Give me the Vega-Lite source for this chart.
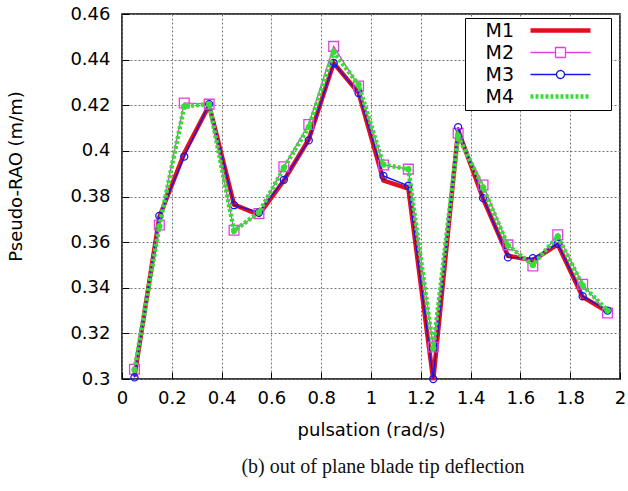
{
  "$schema": "https://vega.github.io/schema/vega-lite/v6.json",
  "width": 498,
  "height": 365,
  "autosize": {"type": "none"},
  "padding": {"left": 122, "top": 14, "right": 8, "bottom": 112},
  "background": "white",
  "title": {"text": "(b) out of plane blade tip deflection", "orient": "bottom", "font": "Liberation Serif", "fontSize": 20, "fontWeight": "normal", "color": "#111111", "dx": 12, "offset": 18},
  "config": {
    "view": {"stroke": "black", "strokeWidth": 1.5},
    "axis": {"labelFont": "DejaVu Sans", "titleFont": "DejaVu Sans", "labelColor": "black", "titleColor": "black", "titleFontWeight": "normal", "grid": true, "gridColor": "#777777", "gridDash": [2, 2], "gridWidth": 1, "gridOpacity": 1, "domain": false, "ticks": true, "tickSize": -7, "tickColor": "black", "tickWidth": 1}
  },
  "data": {"values": [
    {"series": "M1", "x": 0.05, "y": 0.301}, {"series": "M1", "x": 0.15, "y": 0.371}, {"series": "M1", "x": 0.25, "y": 0.399}, {"series": "M1", "x": 0.35, "y": 0.42}, {"series": "M1", "x": 0.45, "y": 0.3765}, {"series": "M1", "x": 0.55, "y": 0.372}, {"series": "M1", "x": 0.65, "y": 0.387}, {"series": "M1", "x": 0.75, "y": 0.405}, {"series": "M1", "x": 0.85, "y": 0.4385}, {"series": "M1", "x": 0.95, "y": 0.4255},
    {"series": "M1", "x": 1.05, "y": 0.387}, {"series": "M1", "x": 1.15, "y": 0.3835}, {"series": "M1", "x": 1.25, "y": 0.2995}, {"series": "M1", "x": 1.35, "y": 0.409}, {"series": "M1", "x": 1.45, "y": 0.379}, {"series": "M1", "x": 1.55, "y": 0.354}, {"series": "M1", "x": 1.65, "y": 0.352}, {"series": "M1", "x": 1.75, "y": 0.359}, {"series": "M1", "x": 1.85, "y": 0.336}, {"series": "M1", "x": 1.95, "y": 0.3295},
    {"series": "M2", "x": 0.05, "y": 0.3043}, {"series": "M2", "x": 0.15, "y": 0.3675}, {"series": "M2", "x": 0.25, "y": 0.421}, {"series": "M2", "x": 0.35, "y": 0.4205}, {"series": "M2", "x": 0.45, "y": 0.3652}, {"series": "M2", "x": 0.55, "y": 0.3725}, {"series": "M2", "x": 0.65, "y": 0.393}, {"series": "M2", "x": 0.75, "y": 0.4116}, {"series": "M2", "x": 0.85, "y": 0.4458}, {"series": "M2", "x": 0.95, "y": 0.4284},
    {"series": "M2", "x": 1.05, "y": 0.3938}, {"series": "M2", "x": 1.15, "y": 0.392}, {"series": "M2", "x": 1.25, "y": 0.314}, {"series": "M2", "x": 1.35, "y": 0.4077}, {"series": "M2", "x": 1.45, "y": 0.385}, {"series": "M2", "x": 1.55, "y": 0.3588}, {"series": "M2", "x": 1.65, "y": 0.3495}, {"series": "M2", "x": 1.75, "y": 0.3632}, {"series": "M2", "x": 1.85, "y": 0.3415}, {"series": "M2", "x": 1.95, "y": 0.3289},
    {"series": "M3", "x": 0.05, "y": 0.3007}, {"series": "M3", "x": 0.15, "y": 0.3715}, {"series": "M3", "x": 0.25, "y": 0.3975}, {"series": "M3", "x": 0.35, "y": 0.4205}, {"series": "M3", "x": 0.45, "y": 0.3762}, {"series": "M3", "x": 0.55, "y": 0.373}, {"series": "M3", "x": 0.65, "y": 0.3873}, {"series": "M3", "x": 0.75, "y": 0.4046}, {"series": "M3", "x": 0.85, "y": 0.4385}, {"series": "M3", "x": 0.95, "y": 0.4254},
    {"series": "M3", "x": 1.05, "y": 0.389}, {"series": "M3", "x": 1.15, "y": 0.3847}, {"series": "M3", "x": 1.25, "y": 0.3}, {"series": "M3", "x": 1.35, "y": 0.4104}, {"series": "M3", "x": 1.45, "y": 0.3793}, {"series": "M3", "x": 1.55, "y": 0.3533}, {"series": "M3", "x": 1.65, "y": 0.353}, {"series": "M3", "x": 1.75, "y": 0.3593}, {"series": "M3", "x": 1.85, "y": 0.3363}, {"series": "M3", "x": 1.95, "y": 0.33},
    {"series": "M4", "x": 0.05, "y": 0.304}, {"series": "M4", "x": 0.15, "y": 0.367}, {"series": "M4", "x": 0.25, "y": 0.4195}, {"series": "M4", "x": 0.35, "y": 0.4205}, {"series": "M4", "x": 0.45, "y": 0.365}, {"series": "M4", "x": 0.55, "y": 0.373}, {"series": "M4", "x": 0.65, "y": 0.3925}, {"series": "M4", "x": 0.75, "y": 0.4104}, {"series": "M4", "x": 0.85, "y": 0.4433}, {"series": "M4", "x": 0.95, "y": 0.429},
    {"series": "M4", "x": 1.05, "y": 0.394}, {"series": "M4", "x": 1.15, "y": 0.392}, {"series": "M4", "x": 1.25, "y": 0.3135}, {"series": "M4", "x": 1.35, "y": 0.4065}, {"series": "M4", "x": 1.45, "y": 0.384}, {"series": "M4", "x": 1.55, "y": 0.3585}, {"series": "M4", "x": 1.65, "y": 0.35}, {"series": "M4", "x": 1.75, "y": 0.3625}, {"series": "M4", "x": 1.85, "y": 0.341}, {"series": "M4", "x": 1.95, "y": 0.33}
  ]},
  "encoding": {
    "x": {"field": "x", "type": "quantitative", "title": "pulsation (rad/s)",
      "scale": {"domain": [0, 2], "nice": false, "zero": false},
      "axis": {"values": [0, 0.2, 0.4, 0.6, 0.8, 1, 1.2, 1.4, 1.6, 1.8, 2], "format": "~g", "labelFontSize": 18, "titleFontSize": 18, "labelPadding": 17, "titlePadding": 14, "labelFlush": false}},
    "y": {"field": "y", "type": "quantitative", "title": "Pseudo-RAO (m/m)",
      "scale": {"domain": [0.3, 0.46], "nice": false, "zero": false},
      "axis": {"values": [0.3, 0.32, 0.34, 0.36, 0.38, 0.4, 0.42, 0.44, 0.46], "format": "~g", "labelFontSize": 18, "titleFontSize": 18, "labelPadding": 19, "titleX": -97, "titleY": 162, "labelFlush": false}}
  },
  "layer": [
    {
      "transform": [{"filter": "datum.series === 'M1'"}],
      "mark": {"type": "line", "strokeWidth": 4.5, "strokeJoin": "miter"},
      "encoding": {"color": {"field": "series", "type": "nominal",
        "scale": {"domain": ["M1", "M2", "M3", "M4"], "range": ["#e0101c", "#e040e0", "#1515ee", "#38dc38"]},
        "legend": {"orient": "none", "legendX": 343, "legendY": 4, "title": null, "padding": 3, "fillColor": "white", "strokeColor": "black", "labelFont": "DejaVu Sans", "labelFontSize": 19, "labelColor": "black", "labelAlign": "right", "labelOffset": -56, "symbolSize": 400, "symbolOffset": 83, "rowPadding": 2,
          "encode": {"symbols": {"update": {
            "shape": {"signal": "datum.value === 'M2' ? 'M-3,0H-0.5M0.5,0H3M-0.5,-0.5H0.5V0.5H-0.5ZM3.8,0' : datum.value === 'M3' ? 'M-3,0H-0.4M0.4,0H3M-0.4,0A0.4,0.4 0 1,0 0.4,0A0.4,0.4 0 1,0 -0.4,0M3.8,0' : 'M-3,0H3M3.8,0'"},
            "strokeWidth": {"signal": "datum.value === 'M1' ? 4.5 : datum.value === 'M4' ? 4.5 : 1.3"},
            "strokeDash": {"signal": "datum.value === 'M4' ? [3,2] : [1,0]"},
            "fill": {"value": "transparent"}
          }}}}}}
    },
    {
      "transform": [{"filter": "datum.series === 'M2'"}],
      "mark": {"type": "line", "strokeWidth": 1.3},
      "encoding": {"color": {"field": "series", "type": "nominal"}}
    },
    {
      "transform": [{"filter": "datum.series === 'M3'"}],
      "mark": {"type": "line", "strokeWidth": 1.3},
      "encoding": {"color": {"field": "series", "type": "nominal"}}
    },
    {
      "transform": [{"filter": "datum.series === 'M2'"}],
      "mark": {"type": "point", "shape": "square", "filled": false, "size": 95, "strokeWidth": 1.3, "color": "#e040e0", "opacity": 1}
    },
    {
      "transform": [{"filter": "datum.series === 'M3'"}],
      "mark": {"type": "point", "shape": "circle", "filled": false, "size": 50, "strokeWidth": 1.3, "color": "#1515ee", "opacity": 1}
    },
    {
      "transform": [{"filter": "datum.series === 'M4'"}],
      "mark": {"type": "line", "strokeWidth": 4.5, "strokeDash": [3, 2], "color": "#38dc38"}
    },
    {
      "transform": [{"filter": "datum.series === 'M4'"}],
      "mark": {"type": "circle", "size": 40, "color": "#38dc38", "opacity": 1}
    }
  ]
}
